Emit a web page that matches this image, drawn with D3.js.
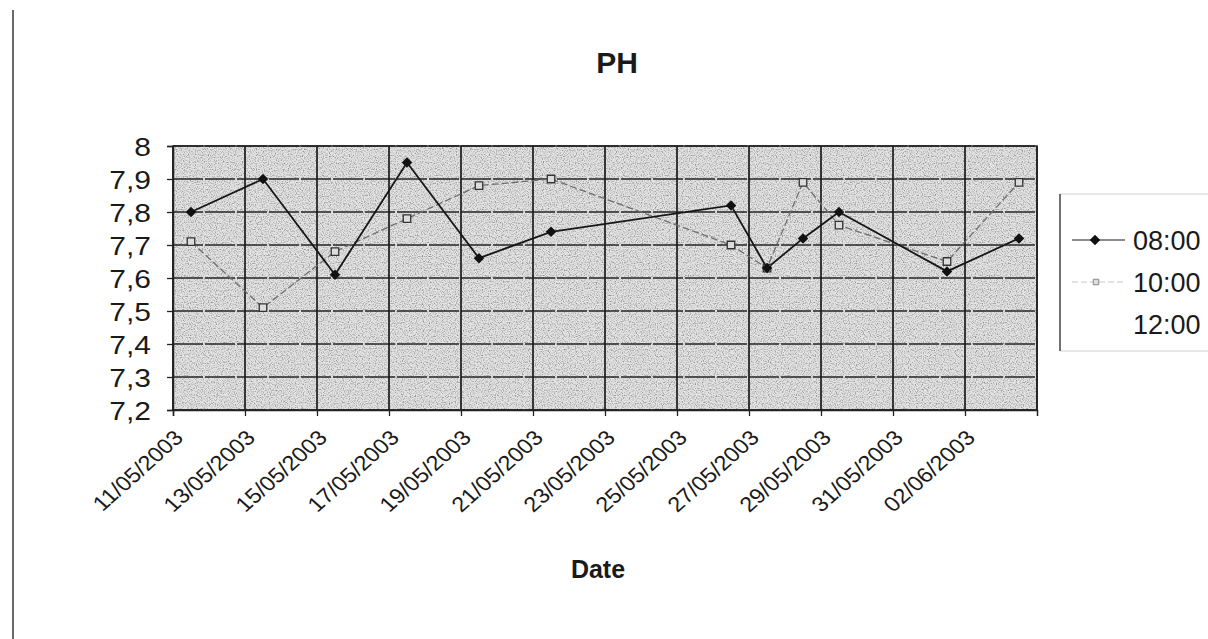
<!DOCTYPE html>
<html>
<head>
<meta charset="utf-8">
<script src="https://cdn.jsdelivr.net/npm/d3@7"></script>
<style>
  body { margin: 0; background: #ffffff; }
  svg { display: block; }
  text { font-family: "Liberation Sans", Arial, sans-serif; fill: #1a1a1a; }
</style>
</head>
<body>
<svg id="chart" width="1208" height="639"></svg>
<script>
// ---------------- data ----------------
const chartTitle = "PH";
const xAxisTitle = "Date";
const seriesNames = ["08:00", "10:00", "12:00"];
const sampleDates = ["11/05/2003", "13/05/2003", "15/05/2003", "17/05/2003", "19/05/2003", "21/05/2003",
                     "26/05/2003", "27/05/2003", "28/05/2003", "29/05/2003", "01/06/2003", "03/06/2003"];
const ph0800 = [7.80, 7.90, 7.61, 7.95, 7.66, 7.74, 7.82, 7.63, 7.72, 7.80, 7.62, 7.72];
const ph1000 = [7.71, 7.51, 7.68, 7.78, 7.88, 7.90, 7.70, 7.63, 7.89, 7.76, 7.65, 7.89];
const xTickLabels = ["11/05/2003", "13/05/2003", "15/05/2003", "17/05/2003", "19/05/2003", "21/05/2003",
                     "23/05/2003", "25/05/2003", "27/05/2003", "29/05/2003", "31/05/2003", "02/06/2003"];
const xDomainLabels = ["11/05/2003", "04/06/2003"];
const yTicks = [7.2, 7.3, 7.4, 7.5, 7.6, 7.7, 7.8, 7.9, 8];

// ---------------- layout ----------------
const plot = { left: 173, right: 1037, top: 146, bottom: 410 };
const parse = d3.utcParse("%d/%m/%Y");
const fmtDate = d3.utcFormat("%d/%m/%Y");

const x = d3.scaleUtc()
  .domain(xDomainLabels.map(parse))
  .range([plot.left, plot.right]);
const y = d3.scaleLinear()
  .domain([7.2, 8])
  .range([plot.bottom, plot.top]);

const svg = d3.select("#chart");

// noise filter for the scanned grey plot area
const defs = svg.append("defs");
const f = defs.append("filter").attr("id", "speckle")
  .attr("x", 0).attr("y", 0).attr("width", 1).attr("height", 1);
f.append("feTurbulence").attr("type", "fractalNoise").attr("baseFrequency", 0.85)
  .attr("numOctaves", 1).attr("seed", 7).attr("result", "n");
f.append("feColorMatrix").attr("in", "n").attr("type", "matrix")
  .attr("values", "0 0 0 0 0.3  0 0 0 0 0.3  0 0 0 0 0.3  3.2 0 0 0 -1.4")
  .attr("result", "specks");
f.append("feFlood").attr("flood-color", "#e4e4e4").attr("result", "bg");
f.append("feMerge").call(m => {
  m.append("feMergeNode").attr("in", "bg");
  m.append("feMergeNode").attr("in", "specks");
});

// page-level left border of the scanned chart area
svg.append("line")
  .attr("x1", 13).attr("x2", 13).attr("y1", 10).attr("y2", 639)
  .attr("stroke", "#444").attr("stroke-width", 1.6);

// plot background
svg.append("rect")
  .attr("x", plot.left).attr("y", plot.top)
  .attr("width", plot.right - plot.left).attr("height", plot.bottom - plot.top)
  .attr("fill", "#d6d6d6")
  .attr("filter", "url(#speckle)");

// gridlines
const tickDates = xTickLabels.map(parse);
svg.append("g").selectAll("line").data(yTicks).join("line")
  .attr("x1", plot.left).attr("x2", plot.right)
  .attr("y1", d => y(d)).attr("y2", d => y(d))
  .attr("stroke", "#262626").attr("stroke-width", 1.5)
  .attr("stroke-dasharray", "30,2");
svg.append("g").selectAll("line").data(tickDates.concat([parse(xDomainLabels[1])])).join("line")
  .attr("x1", d => x(d)).attr("x2", d => x(d))
  .attr("y1", plot.top).attr("y2", plot.bottom)
  .attr("stroke", "#1c1c1c").attr("stroke-width", 1.7);

// plot border
svg.append("rect")
  .attr("x", plot.left).attr("y", plot.top)
  .attr("width", plot.right - plot.left).attr("height", plot.bottom - plot.top)
  .attr("fill", "none").attr("stroke", "#222").attr("stroke-width", 1.5);

// y axis
const yFmt = d => String(d).replace(".", ",");
const gy = svg.append("g").attr("transform", `translate(${plot.left},0)`)
  .call(d3.axisLeft(y).tickValues(yTicks).tickSize(6).tickFormat(yFmt));
gy.select(".domain").attr("stroke", "#222").attr("stroke-width", 1.5);
gy.selectAll(".tick line").attr("stroke", "#222").attr("stroke-width", 1.3);
gy.selectAll(".tick text")
  .attr("x", 0).attr("dy", "0.36em")
  .attr("text-anchor", "end")
  .attr("transform", "translate(-22,0) scale(1.2,1)")
  .style("font-size", "25px").style("fill", "#1a1a1a");

// x axis
const gx = svg.append("g").attr("transform", `translate(0,${plot.bottom})`)
  .call(d3.axisBottom(x).tickValues(tickDates).tickSize(6).tickFormat(fmtDate));
gx.select(".domain").attr("stroke", "#222").attr("stroke-width", 1.5);
gx.selectAll(".tick line").attr("stroke", "#222").attr("stroke-width", 1.3);
gx.selectAll(".tick text")
  .attr("x", 0).attr("y", 0).attr("dy", 0)
  .attr("text-anchor", "end")
  .attr("transform", "translate(11,29) scale(1.12,1) rotate(-45)")
  .style("font-size", "21px").style("fill", "#1a1a1a");

// series
const halfDay = d => d3.utcHour.offset(parse(d), 12);
const pts0800 = sampleDates.map((d, i) => ({ x: x(halfDay(d)), y: y(ph0800[i]) }));
const pts1000 = sampleDates.map((d, i) => ({ x: x(halfDay(d)), y: y(ph1000[i]) }));
const line = d3.line().x(d => d.x).y(d => d.y);

svg.append("path").datum(pts1000).attr("d", line)
  .attr("fill", "none").attr("stroke", "#6e6e6e").attr("stroke-width", 1.3)
  .attr("stroke-dasharray", "7,3");
svg.append("path").datum(pts0800).attr("d", line)
  .attr("fill", "none").attr("stroke", "#161616").attr("stroke-width", 1.8);

const diamond = d3.symbol().type(d3.symbolDiamond2).size(70);
const square = d3.symbol().type(d3.symbolSquare).size(56);

svg.append("g").selectAll("path").data(pts1000).join("path")
  .attr("transform", d => `translate(${d.x},${d.y})`)
  .attr("d", square)
  .attr("fill", "#dcdcdc").attr("stroke", "#333").attr("stroke-width", 1.3);
svg.append("g").selectAll("path").data(pts0800).join("path")
  .attr("transform", d => `translate(${d.x},${d.y})`)
  .attr("d", diamond)
  .attr("fill", "#111");

// titles
svg.append("text").attr("x", 617).attr("y", 73).attr("text-anchor", "middle")
  .style("font-size", "30px").style("font-weight", "bold").text(chartTitle);
svg.append("text").attr("x", 598).attr("y", 578).attr("text-anchor", "middle")
  .style("font-size", "25px").style("font-weight", "bold").text(xAxisTitle);

// legend
const lg = svg.append("g");
lg.append("rect").attr("x", 1060).attr("y", 194).attr("width", 170).attr("height", 157)
  .attr("fill", "#fff").attr("stroke", "#cfcfcf").attr("stroke-width", 1);
lg.append("line").attr("x1", 1060).attr("x2", 1060).attr("y1", 194).attr("y2", 351)
  .attr("stroke", "#555").attr("stroke-width", 1.6);
const legY = d3.scalePoint().domain(seriesNames).range([240, 324]);
const items = lg.selectAll("g.item").data(seriesNames).join("g")
  .attr("class", "item")
  .attr("transform", d => `translate(0,${legY(d)})`);
items.filter((d, i) => i === 0).append("line")
  .attr("x1", 1072).attr("x2", 1125).attr("stroke", "#666").attr("stroke-width", 1.3);
items.filter((d, i) => i === 0).append("path")
  .attr("transform", "translate(1095,0)").attr("d", diamond).attr("fill", "#111");
items.filter((d, i) => i === 1).append("line")
  .attr("x1", 1072).attr("x2", 1125).attr("stroke", "#c8c8c8").attr("stroke-width", 1.2)
  .attr("stroke-dasharray", "6,3");
items.filter((d, i) => i === 1).append("path")
  .attr("transform", "translate(1096,0)").attr("d", d3.symbol().type(d3.symbolSquare).size(30))
  .attr("fill", "#ddd").attr("stroke", "#888");
items.append("text").attr("x", 1133).attr("dy", "0.36em")
  .style("font-size", "27px").text(d => d);
</script>
</body>
</html>
